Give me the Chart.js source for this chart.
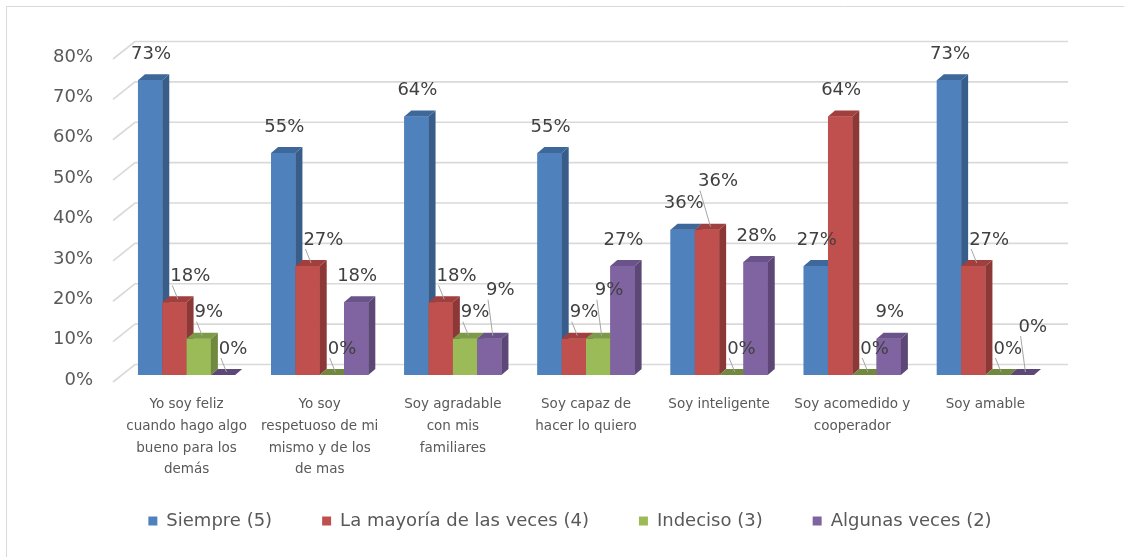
<!DOCTYPE html>
<html>
<head>
<meta charset="utf-8">
<script src="https://cdn.jsdelivr.net/npm/chart.js@4.4.0/dist/chart.umd.min.js"></script>
<style>
  html, body { margin: 0; padding: 0; background: #fff; }
  canvas { display: block; }
</style>
</head>
<body>
<canvas id="myBarChart" width="1124" height="557"></canvas>
<script>
// categories (already wrapped like in the original)
var categories = [
    ['Yo soy feliz', 'cuando hago algo', 'bueno para los', 'demás'],
    ['Yo soy', 'respetuoso de mi', 'mismo y de los', 'de mas'],
    ['Soy agradable', 'con mis', 'familiares'],
    ['Soy capaz de', 'hacer lo quiero'],
    ['Soy inteligente'],
    ['Soy acomedido y', 'cooperador'],
    ['Soy amable']
];
var seriesNames = ['Siempre (5)', 'La mayoría de las veces (4)', 'Indeciso (3)', 'Algunas veces (2)'];
var siempre  = [73, 55, 64, 55, 36, 27, 73];
var mayoria  = [18, 27, 18, 9, 36, 64, 27];
var indeciso = [9, 0, 9, 9, 0, 0, 0];
var algunas  = [0, 18, 9, 27, 28, 9, 0];
var yMax = 80;
var yStep = 10;

// colours: front / side / top faces
var frontColors = ['#4F81BD', '#C0504D', '#9BBB59', '#8064A2'];
var sideColors  = ['#385D8A', '#8C3836', '#71893F', '#5C4776'];
var topColors   = ['#3F689A', '#A03F3D', '#7C9A47', '#6A5388'];

var depthX = 7;
var depthY = 6;

// white background + thin frame (top and left only, like the screenshot)
var background = {
    id: 'background',
    beforeDraw: function (chart) {
        var c = chart.ctx;
        c.save();
        c.fillStyle = '#ffffff';
        c.fillRect(0, 0, chart.width, chart.height);
        c.strokeStyle = '#d9d9d9';
        c.lineWidth = 1;
        c.beginPath();
        c.moveTo(6.5, chart.height);
        c.lineTo(6.5, 6.5);
        c.lineTo(chart.width, 6.5);
        c.stroke();
        c.restore();
    }
};

// nudge the legend to where the original had it
var legendNudge = {
    id: 'legendNudge',
    afterLayout: function (chart) {
        var lg = chart.legend;
        if (!lg) return;
        lg.top -= 17; lg.bottom -= 17;
        lg.left += 19; lg.right += 19;
    }
};

// gridlines on the back wall with the little slanted part on the side
var grid3d = {
    id: 'grid3d',
    beforeDatasetsDraw: function (chart) {
        var c = chart.ctx;
        var area = chart.chartArea;
        var y = chart.scales.y;
        c.save();
        c.strokeStyle = '#d9d9d9';
        c.lineWidth = 1.6;
        for (var v = 0; v <= yMax; v += yStep) {
            var py = y.getPixelForValue(v);
            c.beginPath();
            c.moveTo(area.left - 7, py + 7);
            c.lineTo(area.left + 15, py - 10.5);
            c.lineTo(area.right + 16, py - 10.5);
            c.stroke();
        }
        c.restore();
    }
};

function boxesOverlap(a, b) {
    return a.x1 < b.x2 && a.x2 > b.x1 && a.y1 < b.y2 && a.y2 > b.y1;
}

// 3d faces of the bars and the value labels
var bars3d = {
    id: 'bars3d',
    afterDatasetsDraw: function (chart) {
        var c = chart.ctx;
        var nSets = chart.data.datasets.length;
        c.save();
        for (var i = 0; i < chart.data.labels.length; i++) {
            var bars = [];
            for (var d = 0; d < nSets; d++) {
                var el = chart.getDatasetMeta(d).data[i];
                var p = el.getProps(['x', 'y', 'base', 'width'], true);
                var l = p.x - p.width / 2, r = p.x + p.width / 2;
                var top = Math.min(p.y, p.base);
                var base = p.base;
                bars.push({ x: p.x, l: l, r: r, top: top, base: base, value: chart.data.datasets[d].data[i] });
                if (base - top > 0.5) {
                    // front
                    c.fillStyle = frontColors[d];
                    c.fillRect(l, top, r - l, base - top);
                    // side
                    c.fillStyle = sideColors[d];
                    c.beginPath();
                    c.moveTo(r, top);
                    c.lineTo(r + depthX, top - depthY);
                    c.lineTo(r + depthX, base - depthY);
                    c.lineTo(r, base);
                    c.closePath();
                    c.fill();
                }
                // top
                c.fillStyle = (base - top > 0.5) ? topColors[d] : sideColors[d];
                c.beginPath();
                c.moveTo(l, top);
                c.lineTo(l + depthX, top - depthY);
                c.lineTo(r + depthX, top - depthY);
                c.lineTo(r, top);
                c.closePath();
                c.fill();
            }

            // value labels, pushed aside when they would sit on another bar or label
            c.font = '18px "DejaVu Sans"';
            c.textAlign = 'center';
            c.textBaseline = 'middle';
            var placed = [];
            for (var d = 0; d < nSets; d++) {
                var b = bars[d];
                var txt = b.value + '%';
                var tw = c.measureText(txt).width;
                var cx = b.x + 1;
                var cy = b.top - 26;
                var moved = false;
                for (var k = 0; k < 12; k++) {
                    var box = { x1: cx - tw / 2, x2: cx + tw / 2, y1: cy - 10, y2: cy + 10 };
                    var hit = false;
                    for (var q = 0; q < d; q++) {
                        var bb = { x1: bars[q].l, x2: bars[q].r + depthX, y1: bars[q].top - depthY, y2: bars[q].base };
                        if (boxesOverlap(box, bb)) {
                            cx = bb.x2 + tw / 2 + 1;
                            hit = true;
                            moved = true;
                            break;
                        }
                    }
                    if (hit) continue;
                    for (var q = 0; q < placed.length; q++) {
                        if (boxesOverlap(box, placed[q])) {
                            cy -= 22;
                            cx += 10;
                            hit = true;
                            moved = true;
                            break;
                        }
                    }
                    if (!hit) break;
                }
                placed.push({ x1: cx - tw / 2, x2: cx + tw / 2, y1: cy - 10, y2: cy + 10 });
                if (moved) {
                    c.strokeStyle = '#a6a6a6';
                    c.lineWidth = 1;
                    c.beginPath();
                    c.moveTo(b.x + depthX / 2, b.top - depthY / 2);
                    c.lineTo(cx - tw / 2 + 2, cy + 9);
                    c.stroke();
                }
                c.fillStyle = '#404040';
                c.fillText(txt, cx, cy);
            }
        }
        c.restore();
    }
};

var ctx = document.getElementById('myBarChart').getContext('2d');
var chart = new Chart(ctx, {
    type: 'bar',
    data: {
        labels: categories,
        datasets: [
            { label: seriesNames[0], data: siempre,  backgroundColor: frontColors[0] },
            { label: seriesNames[1], data: mayoria,  backgroundColor: frontColors[1] },
            { label: seriesNames[2], data: indeciso, backgroundColor: frontColors[2] },
            { label: seriesNames[3], data: algunas,  backgroundColor: frontColors[3] }
        ]
    },
    options: {
        responsive: false,
        animation: false,
        devicePixelRatio: 1,
        layout: { padding: { left: 50, right: 72, top: 52, bottom: 0 } },
        datasets: { bar: { categoryPercentage: 0.73, barPercentage: 1, borderWidth: 0 } },
        plugins: {
            tooltip: { enabled: false },
            legend: {
                position: 'bottom',
                labels: {
                    boxWidth: 9,
                    boxHeight: 9,
                    padding: 50,
                    color: '#595959',
                    font: { family: 'DejaVu Sans', size: 18 }
                }
            }
        },
        scales: {
            x: {
                grid: { display: false, drawTicks: false },
                border: { display: false },
                ticks: {
                    color: '#595959',
                    font: { family: 'DejaVu Sans', size: 13.5, lineHeight: 1.6 },
                    padding: 19,
                    maxRotation: 0,
                    autoSkip: false
                },
                afterFit: function (s) { s.height = 104; }
            },
            y: {
                min: 0,
                max: yMax,
                grid: { display: false, drawTicks: false },
                border: { display: false },
                ticks: {
                    stepSize: yStep,
                    padding: 27,
                    labelOffset: 5,
                    color: '#595959',
                    font: { family: 'DejaVu Sans', size: 18 },
                    callback: function (v) { return v + '%'; }
                },
                afterFit: function (s) { s.width = 70; }
            }
        }
    },
    plugins: [background, legendNudge, grid3d, bars3d]
});
</script>
</body>
</html>
